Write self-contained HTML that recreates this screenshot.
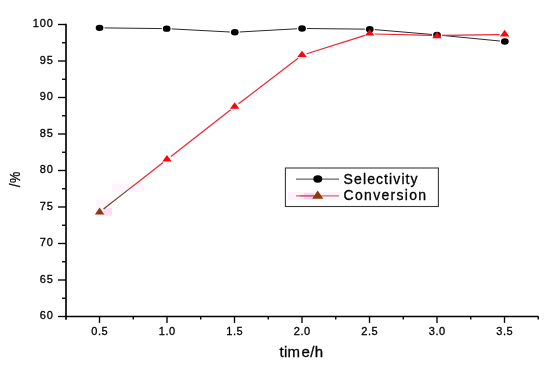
<!DOCTYPE html><html><head><meta charset="utf-8"><title>chart</title><style>html,body{margin:0;padding:0;background:#fff}svg{display:block}text{font-family:"Liberation Sans",Arial,sans-serif;fill:#000;stroke:#000;stroke-width:0.3}</style></head><body>
<svg width="550" height="368" viewBox="0 0 550 368">
<rect width="550" height="368" fill="#fff"/>
<g fill="#fff3fc"><rect x="96" y="200" width="16" height="16"/><rect x="104" y="208" width="8" height="7.5" fill="#ffdcf5"/><rect x="112" y="184" width="32" height="8"/><rect x="288" y="192" width="52" height="8" fill="#fff1fb"/><rect x="304" y="193" width="10" height="6" fill="#ffd4f0"/></g>
<g stroke="#000" fill="none" stroke-linecap="butt">
<path stroke-width="1.65" d="M66 23.8V319.7"/>
<path stroke-width="1.5" d="M65 316.5H538.5"/>
<g stroke-width="1.35">
<path d="M58 316.50H66"/>
<path d="M62 298.25H66"/>
<path d="M58 280.00H66"/>
<path d="M62 261.75H66"/>
<path d="M58 243.50H66"/>
<path d="M62 225.25H66"/>
<path d="M58 207.00H66"/>
<path d="M62 188.75H66"/>
<path d="M58 170.50H66"/>
<path d="M62 152.25H66"/>
<path d="M58 134.00H66"/>
<path d="M62 115.75H66"/>
<path d="M58 97.50H66"/>
<path d="M62 79.25H66"/>
<path d="M58 61.00H66"/>
<path d="M62 42.75H66"/>
<path d="M58 24.50H66"/>
<path d="M99.50 316.5V322.9"/>
<path d="M133.25 316.5V319.5"/>
<path d="M167.00 316.5V322.9"/>
<path d="M200.75 316.5V319.5"/>
<path d="M234.50 316.5V322.9"/>
<path d="M268.25 316.5V319.5"/>
<path d="M302.00 316.5V322.9"/>
<path d="M335.75 316.5V319.5"/>
<path d="M369.50 316.5V322.9"/>
<path d="M403.25 316.5V319.5"/>
<path d="M437.00 316.5V322.9"/>
<path d="M470.75 316.5V319.5"/>
<path d="M504.50 316.5V322.9"/>
<path d="M538.25 316.5V319.5"/>
</g></g>
<g font-size="11" letter-spacing="0.8">
<text x="53.6" y="319.40" text-anchor="end">60</text>
<text x="53.6" y="282.90" text-anchor="end">65</text>
<text x="53.6" y="246.40" text-anchor="end">70</text>
<text x="53.6" y="209.90" text-anchor="end">75</text>
<text x="53.6" y="173.40" text-anchor="end">80</text>
<text x="53.6" y="136.90" text-anchor="end">85</text>
<text x="53.6" y="100.40" text-anchor="end">90</text>
<text x="53.6" y="63.90" text-anchor="end">95</text>
<text x="53.6" y="26.80" text-anchor="end">100</text>
<text x="99.70" y="334.6" letter-spacing="0.55" text-anchor="middle">0.5</text>
<text x="167.20" y="334.6" letter-spacing="0.55" text-anchor="middle">1.0</text>
<text x="234.70" y="334.6" letter-spacing="0.55" text-anchor="middle">1.5</text>
<text x="302.20" y="334.6" letter-spacing="0.55" text-anchor="middle">2.0</text>
<text x="369.70" y="334.6" letter-spacing="0.55" text-anchor="middle">2.5</text>
<text x="437.20" y="334.6" letter-spacing="0.55" text-anchor="middle">3.0</text>
<text x="504.70" y="334.6" letter-spacing="0.55" text-anchor="middle">3.5</text>
</g>
<text x="279.5" y="356.9" font-size="15" letter-spacing="0.3">tim<tspan dx="1.2">e/h</tspan></text>
<text transform="translate(20.4 179.2) rotate(-90) scale(0.91 1)" font-size="14" letter-spacing="0.5" stroke-width="0.45" text-anchor="middle">/%</text>
<g stroke="#2a2a2a" stroke-width="1" fill="none">
<path d="M104.55 27.91L161.70 28.59"/>
<path d="M171.69 28.91L229.81 31.99"/>
<path d="M239.79 31.97L297.06 28.75"/>
<path d="M307.05 28.52L364.75 29.15"/>
<path d="M374.73 29.62L432.02 34.48"/>
<path d="M441.98 35.38L499.87 41.02"/>
</g>
<g stroke="#f02234" stroke-width="1.2" fill="none">
<path stroke="#6b4324" d="M103.54 208.93L128.00 189.88"/>
<path stroke="#b03a2a" d="M128.00 189.88L135.00 184.43"/>
<path d="M135.00 184.43L163.06 162.57"/>
<path d="M170.94 156.42L230.71 109.78"/>
<path d="M238.62 103.67L298.03 58.33"/>
<path d="M306.77 53.79L364.93 35.41"/>
<path d="M374.70 34.01L432.00 35.29"/>
<path d="M442.00 35.34L499.65 34.66"/>
</g>
<ellipse cx="99.55" cy="27.85" rx="3.85" ry="3.2" fill="#000"/>
<ellipse cx="166.7" cy="28.65" rx="3.85" ry="3.2" fill="#000"/>
<ellipse cx="234.8" cy="32.25" rx="3.85" ry="3.2" fill="#000"/>
<ellipse cx="302.05" cy="28.47" rx="3.85" ry="3.2" fill="#000"/>
<ellipse cx="369.75" cy="29.2" rx="3.85" ry="3.2" fill="#000"/>
<ellipse cx="437" cy="34.9" rx="3.85" ry="3.2" fill="#000"/>
<ellipse cx="504.85" cy="41.5" rx="3.85" ry="3.2" fill="#000"/>
<path fill="#8f3a0c" d="M99.60 207.60L104.35 214.40H94.85Z"/>
<path fill="#fa0510" d="M167.00 155.06L171.75 161.60H162.25Z"/>
<path fill="#fa0510" d="M234.65 102.20L239.40 108.70H229.90Z"/>
<path fill="#fa0510" d="M302.00 50.85L306.75 57.00H297.25Z"/>
<path fill="#fa0510" d="M369.70 29.30L374.45 35.50H364.95Z"/>
<path fill="#fa0510" d="M437.00 31.80L441.75 38.20H432.25Z"/>
<path fill="#fa0510" d="M504.65 29.76L509.40 36.60H499.90Z"/>
<rect x="285.4" y="168" width="153" height="38.5" fill="none" stroke="#3a3a3a" stroke-width="1.1"/>
<path d="M296 179.1H339" stroke="#666" stroke-width="1.2"/>
<ellipse cx="317.8" cy="179" rx="4.5" ry="3.7" fill="#000"/>
<path d="M296 195.8H339" stroke="#a8806c" stroke-width="1.3"/>
<path d="M300 195.8H316" stroke="#e8506a" stroke-width="1.3"/>
<path fill="#8f3a0c" d="M317.70 190.50L323.30 198.70H312.10Z"/>
<g font-size="14"><text x="343.6" y="183.7" letter-spacing="1.1">Selectivity</text><text x="343.6" y="200.3" letter-spacing="1.3">Conversion</text></g>
</svg></body></html>
